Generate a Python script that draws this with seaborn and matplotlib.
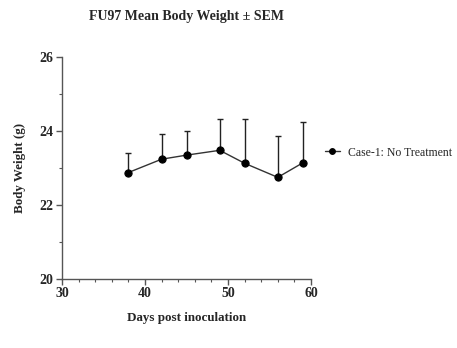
import matplotlib
matplotlib.use("Agg")
import matplotlib.pyplot as plt
import seaborn as sns
import numpy as np
import pandas as pd
from matplotlib.ticker import MultipleLocator

days = [38, 42, 45, 49, 52, 56, 59]
mean_weight = [22.88, 23.24, 23.35, 23.48, 23.13, 22.75, 23.14]
sem = [0.54, 0.69, 0.66, 0.84, 1.19, 1.13, 1.10]
series_label = "Case-1: No Treatment"

sns.set_style("ticks")
plt.rcParams['font.family'] = ['Liberation Serif', 'DejaVu Serif']

df = pd.DataFrame({"day": days, "weight": mean_weight})

fig = plt.figure(figsize=(4.57, 3.48), dpi=100)
ax = fig.add_axes([0.1357, 0.198, 0.5448, 0.638])

ax.errorbar(days, mean_weight, yerr=[np.zeros(len(sem)), sem], fmt='none',
            ecolor='#222222', elinewidth=1.0, capsize=2.2, capthick=1.0, zorder=2)
sns.lineplot(data=df, x="day", y="weight", ax=ax, color='#333333', linewidth=1.0,
             marker='o', markersize=5.2, markerfacecolor='black',
             markeredgecolor='black', label=series_label, zorder=3)

ax.set_xlim(30, 60)
ax.set_ylim(20, 26)
ax.xaxis.set_major_locator(MultipleLocator(10))
ax.xaxis.set_minor_locator(MultipleLocator(2))
ax.yaxis.set_major_locator(MultipleLocator(2))
ax.yaxis.set_minor_locator(MultipleLocator(1))

for s in ['top', 'right']:
    ax.spines[s].set_visible(False)
for s in ['left', 'bottom']:
    ax.spines[s].set_color('#555555')
    ax.spines[s].set_linewidth(1.0)

ax.tick_params(which='major', length=4, width=1.0, color='#555555', labelsize=10, pad=2)
ax.tick_params(which='minor', length=2.5, width=0.8, color='#555555')
for lab in ax.get_xticklabels() + ax.get_yticklabels():
    lab.set_fontweight('bold')

ax.set_xlabel("Days post inoculation", fontsize=9.4, fontweight='bold', labelpad=8)
ax.set_ylabel("Body Weight (g)", fontsize=9.4, fontweight='bold', labelpad=10)
ax.set_title("FU97 Mean Body Weight ± SEM", fontsize=10, fontweight='bold', pad=27)

leg = ax.legend(loc='center left', bbox_to_anchor=(1.015, 0.57), frameon=False,
                fontsize=8.5, handlelength=1.2, handletextpad=0.7, markerscale=0.8)

fig.savefig("out.png", dpi=100)
